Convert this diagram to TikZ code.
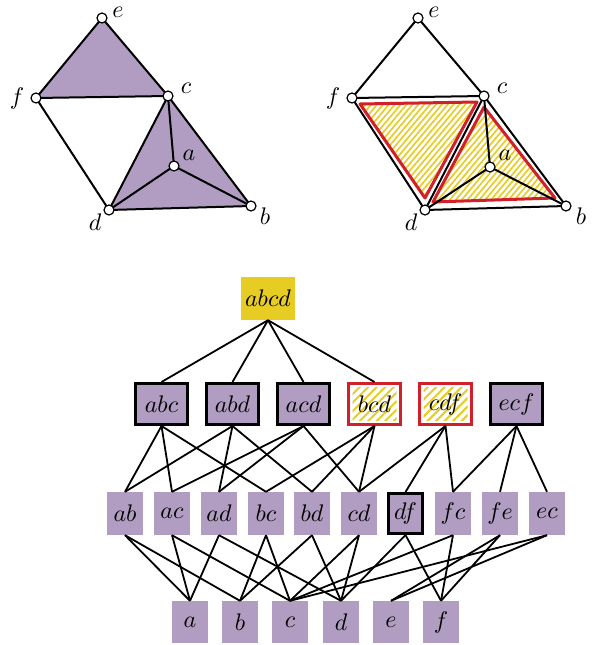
\documentclass[tikz,border=0pt]{standalone}
\usepackage{graphicx}
\usetikzlibrary{patterns.meta,calc}
\definecolor{lav}{RGB}{177,157,194}
\definecolor{gold}{RGB}{231,204,36}
\definecolor{crim}{RGB}{210,32,42}
\newcommand{\mathbig}[1]{\scalebox{2.4}{$#1$}}
\begin{document}
\begin{tikzpicture}[x=1pt,y=-1pt,
  vtx/.style={circle,draw=black,fill=white,line width=1.2pt,minimum size=10pt,inner sep=0pt},
  vlab/.style={inner sep=0pt},
  edge/.style={line width=2pt,line join=round},
  tri/.style={fill=lav},
  hatchtri/.style={pattern={Lines[angle=50,distance=4.5pt,line width=1.7pt]},pattern color=gold},
  redline/.style={draw=crim,line width=3pt,line join=round},
  topbox/.style={fill=gold,minimum width=54pt,minimum height=43pt,inner sep=0pt},
  setbox/.style={fill=lav,draw=black,line width=3pt,minimum width=52pt,minimum height=41pt,inner sep=0pt},
  hatchbox/.style={fill=white,draw=crim,line width=3pt,minimum width=52pt,minimum height=41pt,inner sep=0pt,
    path picture={\fill[pattern={Lines[angle=45,distance=6pt,line width=2pt]},pattern color=gold]
      ($(path picture bounding box.south west)+(4pt,4pt)$) rectangle ($(path picture bounding box.north east)+(-4pt,-4pt)$);}},
  pairbox/.style={fill=lav,minimum width=36pt,minimum height=43pt,inner sep=0pt},
  pairboxb/.style={fill=lav,draw=black,line width=3pt,minimum width=34pt,minimum height=40pt,inner sep=0pt},
  ptbox/.style={fill=lav,minimum width=36pt,minimum height=42pt,inner sep=0pt},
  link/.style={line width=1.8pt}
]
\useasboundingbox (0,0) rectangle (596,645);

% ---------- left complex ----------
\coordinate (le) at (102,18);
\coordinate (lf) at (36,98);
\coordinate (lc) at (168,96);
\coordinate (la) at (174,166);
\coordinate (ld) at (109,210);
\coordinate (lb) at (251,206);
\fill[tri] (le) -- (lf) -- (lc) -- cycle;
\fill[tri] (lc) -- (ld) -- (lb) -- cycle;
\draw[edge] (le) -- (lf) -- (lc) -- cycle;
\draw[edge] (lf) -- (ld) -- (lc);
\draw[edge] (lc) -- (lb) -- (ld);
\draw[edge] (la) -- (lc);
\draw[edge] (la) -- (ld);
\draw[edge] (la) -- (lb);
\foreach \v in {le,lf,lc,la,ld,lb} \node[vtx] (\v-n) at (\v) {};
\node[vlab] (le-l) at (118,12) {\mathbig{e}};
\node[vlab] (lf-l) at (17,98) {\mathbig{f}};
\node[vlab] (lc-l) at (186,88) {\mathbig{c}};
\node[vlab] (la-l) at (189,155) {\mathbig{a}};
\node[vlab] (ld-l) at (95,222) {\mathbig{d}};
\node[vlab] (lb-l) at (265,216) {\mathbig{b}};

% ---------- right complex ----------
\coordinate (re) at (418,18);
\coordinate (rf) at (352,98);
\coordinate (rc) at (484,96);
\coordinate (ra) at (490,167);
\coordinate (rd) at (425,210);
\coordinate (rb) at (566,206);
\fill[hatchtri] (360,104) -- (477,102) -- (425,198) -- cycle;
\fill[hatchtri] (484,107) -- (433,202) -- (555,198) -- cycle;
\draw[redline] (360,104) -- (477,102) -- (425,198) -- cycle;
\draw[redline] (484,107) -- (433,202) -- (555,198) -- cycle;
\draw[edge] (re) -- (rf) -- (rc) -- cycle;
\draw[edge] (rf) -- (rd) -- (rc);
\draw[edge] (rc) -- (rb) -- (rd);
\draw[edge] (ra) -- (rc);
\draw[edge] (ra) -- (rd);
\draw[edge] (ra) -- (rb);
\foreach \v in {re,rf,rc,ra,rd,rb} \node[vtx] (\v-n) at (\v) {};
\node[vlab] (re-l) at (434,12) {\mathbig{e}};
\node[vlab] (rf-l) at (333,98) {\mathbig{f}};
\node[vlab] (rc-l) at (502,88) {\mathbig{c}};
\node[vlab] (ra-l) at (505,155) {\mathbig{a}};
\node[vlab] (rd-l) at (411,222) {\mathbig{d}};
\node[vlab] (rb-l) at (581,216) {\mathbig{b}};

% ---------- lattice ----------
\node[topbox] (Pabcd) at (268,298.5) {\mathbig{abcd}};

\node[setbox]   (Pabc) at (161.5,404) {\mathbig{abc}};
\node[setbox]   (Pabd) at (232.5,404) {\mathbig{abd}};
\node[setbox]   (Pacd) at (303.5,404) {\mathbig{acd}};
\node[hatchbox] (Pbcd) at (374.5,404) {\mathbig{bcd}};
\node[hatchbox] (Pcdf) at (445.5,404) {\mathbig{cdf}};
\node[setbox]   (Pecf) at (516.5,404) {\mathbig{ecf}};

\node[pairbox]  (Pab) at (125,513.5) {\mathbig{ab}};
\node[pairbox]  (Pac) at (172,513.5) {\mathbig{ac}};
\node[pairbox]  (Pad) at (219,513.5) {\mathbig{ad}};
\node[pairbox]  (Pbc) at (266,513.5) {\mathbig{bc}};
\node[pairbox]  (Pbd) at (312,513.5) {\mathbig{bd}};
\node[pairbox]  (Pcd) at (359,513.5) {\mathbig{cd}};
\node[pairboxb] (Pdf) at (405.5,513.5) {\mathbig{df}};
\node[pairbox]  (Pfc) at (453,513.5) {\mathbig{fc}};
\node[pairbox]  (Pfe) at (500,513.5) {\mathbig{fe}};
\node[pairbox]  (Pec) at (547,513.5) {\mathbig{ec}};

\node[ptbox] (Pa) at (190,622) {\mathbig{a}};
\node[ptbox] (Pb) at (240,622) {\mathbig{b}};
\node[ptbox] (Pc) at (290,622) {\mathbig{c}};
\node[ptbox] (Pd) at (341,622) {\mathbig{d}};
\node[ptbox] (Pe) at (391,622) {\mathbig{e}};
\node[ptbox] (Pf) at (441,622) {\mathbig{f}};

\foreach \t in {abc,abd,acd,bcd} \draw[link] (Pabcd.south) -- (P\t.north);

\foreach \s/\t in {abc/ab,abc/ac,abc/bc,abd/ab,abd/ad,abd/bd,acd/ac,acd/ad,acd/cd,
                   bcd/bc,bcd/bd,bcd/cd,cdf/cd,cdf/df,cdf/fc,ecf/ec,ecf/fc,ecf/fe}
  \draw[link] (P\s.south) -- (P\t.north);

\foreach \s/\t in {ab/a,ab/b,ac/a,ac/c,ad/a,ad/d,bc/b,bc/c,bd/b,bd/d,cd/c,cd/d,
                   df/d,df/f,fc/f,fc/c,fe/f,fe/e,ec/e,ec/c}
  \draw[link] (P\s.south) -- (P\t.north);
\end{tikzpicture}
\end{document}
